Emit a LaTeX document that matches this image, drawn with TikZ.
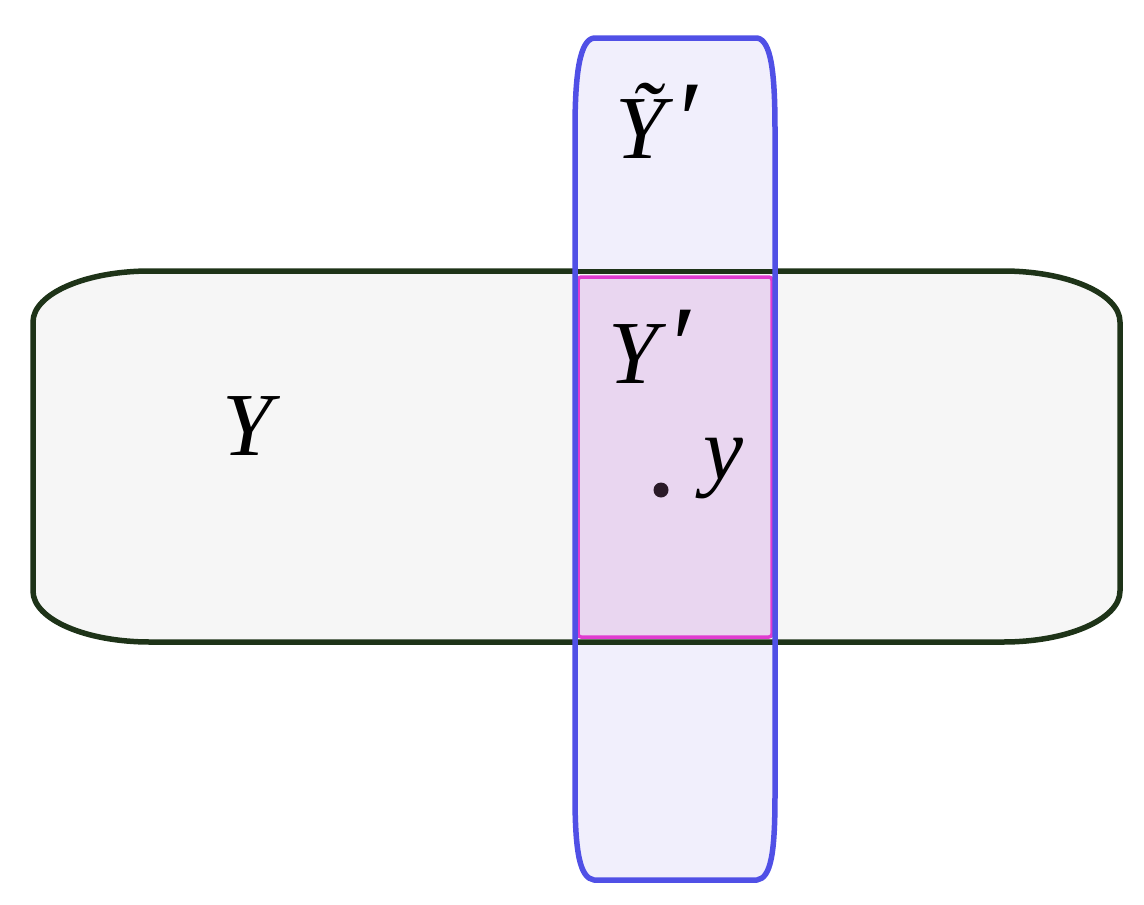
\documentclass[tikz,border=0pt]{standalone}
\usepackage{fontspec}
\setmainfont{Liberation Serif}
\definecolor{vblue}{HTML}{5050E6}
\definecolor{vfill}{HTML}{F1EFFC}
\definecolor{hgreen}{HTML}{1E3318}
\definecolor{hfill}{HTML}{F6F6F6}
\definecolor{pstroke}{HTML}{E03CD0}
\definecolor{pfill}{HTML}{E9D6F0}
\definecolor{dotc}{HTML}{2A1A28}
\newcommand{\bigprime}{\hspace{7pt}{\fontsize{112}{100}\selectfont ′}}
\tikzset{
  lbl/.style={anchor=base west, inner sep=0pt, font=\fontsize{90}{100}\selectfont\itshape},
}
\begin{document}
\begin{tikzpicture}[x=1pt,y=-1pt,line join=round]
\useasboundingbox (0,0) rectangle (1144,905);
\def\vpath{(594,38) -- (757,38) .. controls (771,40) and (775,72) .. (775,130) -- (775,795) .. controls (775,853) and (771,878) .. (757,880) -- (594,880) .. controls (580,878) and (575,853) .. (575,795) -- (575,130) .. controls (575,72) and (580,40) .. (594,38) -- cycle}
% vertical fill
\fill[vfill] \vpath;
% horizontal shape
\draw[hgreen, fill=hfill, line width=5.5pt] (150,271) -- (1003,271) .. controls (1068,271) and (1120,294) .. (1120,322) -- (1120,591) .. controls (1120,619) and (1068,642) .. (1003,642) -- (150,642) .. controls (85,642) and (33,619) .. (33,591) -- (33,322) .. controls (33,294) and (85,271) .. (150,271) -- cycle;
% redraw vertical fill outside horizontal (above and below)
\begin{scope}
\clip (560,0) rectangle (790,268);
\fill[vfill] \vpath;
\end{scope}
\begin{scope}
\clip (560,645) rectangle (790,905);
\fill[vfill] \vpath;
\end{scope}
% pink intersection
\draw[pstroke, fill=pfill, line width=3.5pt, rounded corners=3pt] (578,277) rectangle (772,637);
% vertical stroke
\draw[vblue, line width=5.5pt] \vpath;
% labels
\node[lbl] (Y) at (222,455) {Y};
\node[lbl] (Yp) at (608,383) {Y\bigprime};
\node[lbl] (Yt) at (615,158) {Ỹ\bigprime};
\node[lbl] (yl) at (703,479) {y};
\fill[dotc] (661,490) circle (7.5);
\end{tikzpicture}
\end{document}
